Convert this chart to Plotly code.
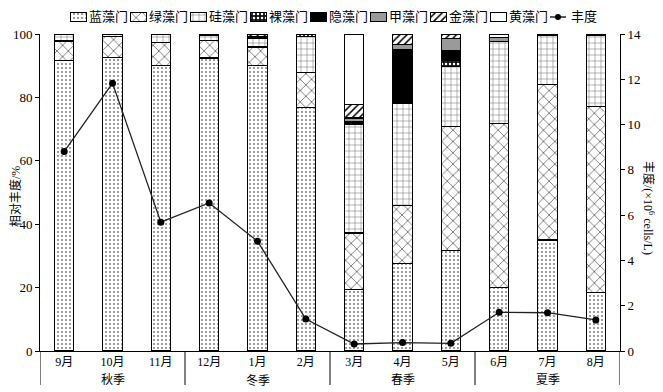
import plotly.graph_objects as go

# ---------------- data ----------------
months = ['9月', '10月', '11月', '12月', '1月', '2月', '3月', '4月', '5月', '6月', '7月', '8月']
seasons = ['秋季', '冬季', '春季', '夏季']

cyanophyta   = [91.6, 92.6, 90.1, 92.4, 90.1, 76.7, 19.5, 27.5, 31.6, 20.1, 35.0, 18.4]   # 蓝藻门
chlorophyta  = [6.2, 6.6, 7.3, 5.5, 5.8, 11.1, 17.7, 18.3, 39.2, 51.6, 49.0, 58.7]       # 绿藻门
bacillario   = [2.2, 0.6, 2.6, 1.8, 2.7, 11.5, 34.4, 32.2, 19.0, 26.0, 15.7, 22.5]        # 硅藻门
euglenophyta = [0, 0, 0, 0, 0, 0.7, 0, 0, 1.9, 0, 0, 0]                                   # 裸藻门
cryptophyta  = [0, 0.2, 0, 0.3, 0.7, 0, 0.8, 17.0, 3.1, 0, 0.3, 0.4]                      # 隐藻门
pyrrophyta   = [0, 0, 0, 0, 0, 0, 1.1, 1.6, 3.9, 1.3, 0, 0]                               # 甲藻门
chrysophyta  = [0, 0, 0, 0, 0.7, 0, 4.2, 3.4, 1.3, 0, 0, 0]                               # 金藻门
xanthophyta  = [0, 0, 0, 0, 0, 0, 22.3, 0, 0, 1.0, 0, 0]                                  # 黄藻门
abundance    = [8.81, 11.83, 5.69, 6.54, 4.85, 1.41, 0.31, 0.37, 0.34, 1.71, 1.69, 1.37]  # ×10^6 cells/L

# ---------------- layout constants ----------------
# the page body has an 8px default margin, so the figure is drawn 8px in from the top-left
W, H = 655, 384
ML, MR, MT, MB = 32, 43, 2, 41
PW, PH = W - ML - MR, H - MT - MB      # 580 x 341
main_top = (PH - 24) / PH              # plot top 24 px below paper top
FONT = 'Liberation Serif, Noto Sans CJK SC'


def pat(shape, fg, bg, size, sol):
    return dict(shape=shape, fgcolor=fg, bgcolor=bg, size=size, solidity=sol, fillmode='replace')


series = [
    ('蓝藻门', cyanophyta,   dict(color='white', pattern=pat('.', 'black', 'white', 4, 0.1))),
    ('绿藻门', chlorophyta,  dict(color='white', pattern=pat('x', '#444444', 'white', 8, 0.16))),
    ('硅藻门', bacillario,   dict(color='white', pattern=pat('+', '#7a7a7a', 'white', 6, 0.18))),
    ('裸藻门', euglenophyta, dict(color='black', pattern=pat('.', 'white', '#111111', 4, 0.3))),
    ('隐藻门', cryptophyta,  dict(color='black')),
    ('甲藻门', pyrrophyta,   dict(color='#9a9a9a')),
    ('金藻门', chrysophyta,  dict(color='white', pattern=pat('/', 'black', 'white', 5, 0.3))),
    ('黄藻门', xanthophyta,  dict(color='white')),
]

fig = go.Figure()
for name, vals, mk in series:
    fig.add_trace(go.Bar(
        x=months, y=[v if v else None for v in vals], name=name, width=0.4,
        marker=dict(**mk, line=dict(color='black', width=1.2)),
        showlegend=False,
    ))

fig.add_trace(go.Scatter(
    x=months, y=abundance, name='丰度', yaxis='y2', mode='lines+markers',
    line=dict(color='#222222', width=1.3),
    marker=dict(color='black', size=7), showlegend=False,
))

# ---------------- custom one-line legend ----------------
# legend axis x3 spans the plot width: 0 = left axis line
LEG_X0 = 30
SW = 16
CH = 13          # CJK glyph advance at 13px
cursor = LEG_X0
annotations = []
leg_font = dict(size=13, family=FONT, color='black')
for name, vals, mk in series:
    fig.add_trace(go.Bar(
        x=[cursor + SW / 2], y=[1], width=[SW], xaxis='x3', yaxis='y3',
        marker=dict(**mk, line=dict(color='black', width=1)),
        showlegend=False, hoverinfo='skip',
    ))
    annotations.append(dict(x=cursor + SW + 1, y=0.5, xref='x3', yref='y3', text=name,
                            showarrow=False, xanchor='left', yanchor='middle', font=leg_font))
    cursor += SW + 1 + CH * len(name) + 4
fig.add_trace(go.Scatter(
    x=[cursor, cursor + SW], y=[0.5, 0.5], xaxis='x3', yaxis='y3',
    mode='lines', line=dict(color='black', width=1.3), showlegend=False, hoverinfo='skip',
))
fig.add_trace(go.Scatter(
    x=[cursor + SW / 2], y=[0.5], xaxis='x3', yaxis='y3',
    mode='markers', marker=dict(color='black', size=6), showlegend=False, hoverinfo='skip',
))
annotations.append(dict(x=cursor + SW + 3, y=0.5, xref='x3', yref='y3', text='丰度',
                        showarrow=False, xanchor='left', yanchor='middle', font=leg_font))

# ---------------- season labels & separators ----------------
per = len(months) // len(seasons)
shapes = []
below = 34 / PH
for k in range(len(seasons) + 1):
    xb = k * per - 0.5
    shapes.append(dict(type='line', xref='x', yref='paper', x0=xb, x1=xb, y0=0, y1=-below,
                       line=dict(color='black', width=1)))
for k, s in enumerate(seasons):
    annotations.append(dict(x=months[k * per + per // 2], xref='x', y=0, yref='paper', text=s,
                            showarrow=False, xanchor='center', yanchor='middle', yshift=-29,
                            font=dict(size=12, family=FONT, color='black')))

# axis titles
annotations.append(dict(x=-24 / PW, y=(PH - (197 - 8 - MT)) / PH, xref='paper', yref='paper',
                        text='相对丰度/%', textangle=-90, showarrow=False,
                        xanchor='center', yanchor='middle',
                        font=dict(size=12, family=FONT, color='black')))
annotations.append(dict(x=1 + 28 / PW, y=(PH - (208 - 8 - MT)) / PH, xref='paper', yref='paper',
                        text='丰度/(×10<sup>6</sup> cells/L)', textangle=90, showarrow=False,
                        xanchor='center', yanchor='middle',
                        font=dict(size=12, family=FONT, color='black')))

fig.update_layout(
    template='none',
    width=W, height=H, margin=dict(l=ML, r=MR, t=MT, b=MB, autoexpand=False),
    barmode='stack', plot_bgcolor='white', paper_bgcolor='white',
    font=dict(family=FONT, color='black', size=13),
    showlegend=False,
    xaxis=dict(type='category', domain=[0, 1], range=[-0.5, len(months) - 0.5], anchor='y',
               showline=True, linecolor='black', linewidth=1, ticks='', showgrid=False,
               automargin=False, tickfont=dict(size=12, family=FONT)),
    yaxis=dict(domain=[0, main_top], range=[0, 100], dtick=20, ticks='outside', ticklen=4,
               tickcolor='black', showline=True, linecolor='black', linewidth=1,
               showgrid=False, zeroline=False, automargin=False,
               tickfont=dict(size=13, family=FONT)),
    yaxis2=dict(overlaying='y', side='right', anchor='x', range=[0, 14], dtick=2,
                ticks='outside', ticklen=4, tickcolor='black', showline=True,
                linecolor='black', linewidth=1, showgrid=False, zeroline=False,
                automargin=False, tickfont=dict(size=13, family=FONT)),
    xaxis3=dict(domain=[0, 1], range=[0, PW], anchor='y3', visible=False, automargin=False),
    yaxis3=dict(domain=[(PH - (22 - 8 - MT)) / PH, (PH - (12 - 8 - MT)) / PH], range=[-0.08, 1.08],
                anchor='x3', visible=False, automargin=False),
    shapes=shapes, annotations=annotations,
)

fig.write_html('out.html')
